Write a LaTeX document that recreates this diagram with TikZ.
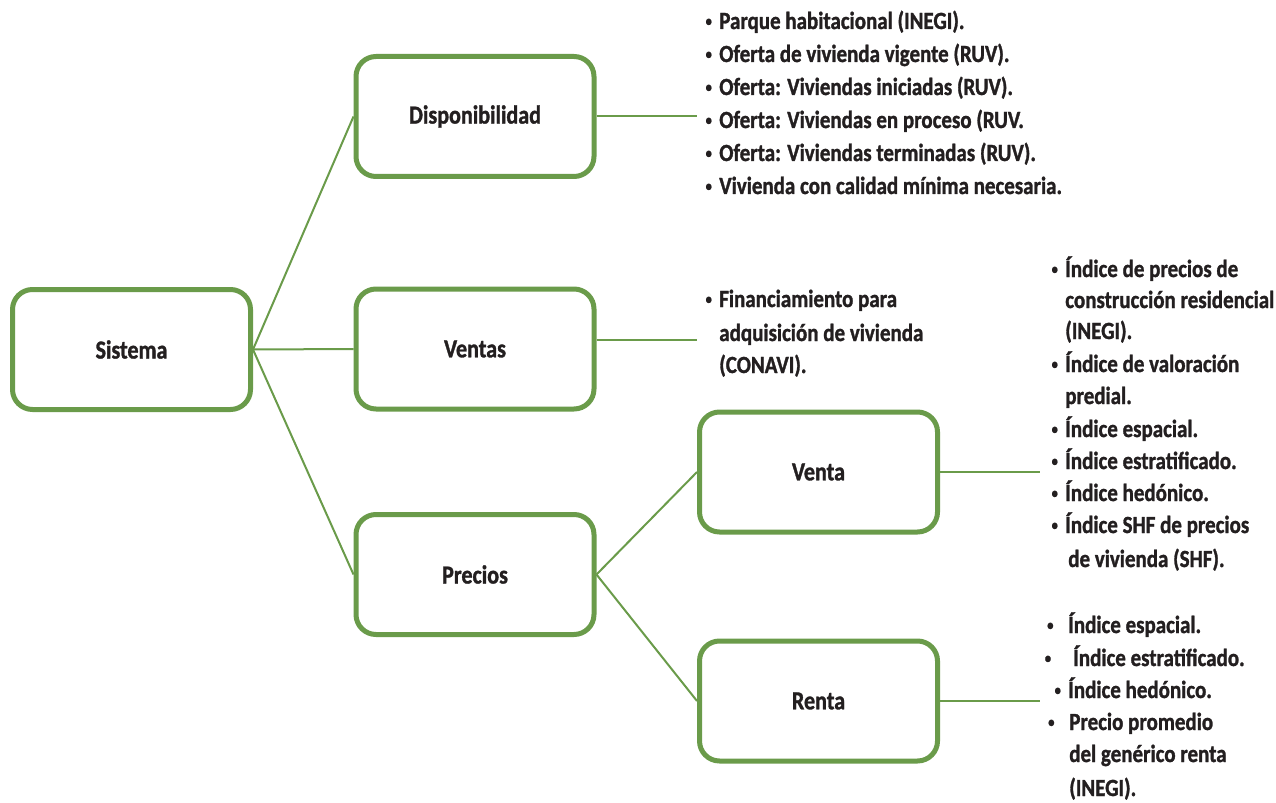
\documentclass[tikz,border=0pt]{standalone}
\usepackage{fontspec}
\usepackage{graphicx}
\setmainfont{Carlito}[FakeStretch=0.85, BoldFeatures={FakeBold=1.2}]
\definecolor{lgreen}{RGB}{106,155,74}
\definecolor{ink}{RGB}{35,31,32}
\newcommand\dotb{\raisebox{0.12em}{\scalebox{0.6}{\textbullet}}}
\newcommand\bl{\llap{\dotb\hspace{0.3em}}}
\newcommand\blw{\llap{\dotb\hspace{0.6em}}}
\begin{document}
\begin{tikzpicture}[x=0.75pt,y=-0.75pt,
  box/.style={draw=lgreen, line width=3.75pt, rounded corners=15pt, minimum width=178.5pt, minimum height=90pt, fill=white, text=ink, font=\fontsize{19.5}{22}\selectfont\bfseries},
  conn/.style={draw=lgreen, line width=1.5pt},
  item/.style={anchor=base west, inner sep=0pt, text=ink, font=\fontsize{18.5}{20}\selectfont\bfseries}]
\useasboundingbox (0,0) rectangle (1276,802);
% boxes
\node[box] (sis) at (131.5,349.5) {Sistema};
\node[box] (disp) at (475,116.5) {Disponibilidad};
\node[box] (ventas) at (475,349) {Ventas};
\node[box] (precios) at (475,574.5) {Precios};
\node[box] (venta) at (818.5,472) {Venta};
\node[box] (renta) at (818.5,701) {Renta};
% connectors
\draw[conn] (sis.east) -- (disp.west);
\draw[conn] (sis.east) -- (ventas.west);
\draw[conn] (sis.east) -- (precios.west);
\draw[conn] (precios.east) -- (venta.west);
\draw[conn] (precios.east) -- (renta.west);
\coordinate (dE) at (697,116.5);
\coordinate (vE) at (697,340);
\coordinate (veE) at (1040,472);
\coordinate (reE) at (1040,701);
\draw[conn] (disp.east) -- (dE);
\draw[conn] (vE -| ventas.east) -- (vE);
\draw[conn] (venta.east) -- (veE);
\draw[conn] (renta.east) -- (reE);
% Disponibilidad list
\node[item] (d1) at (719,29) {\bl Parque habitacional (INEGI).};
\node[item] (d2) at (719,62) {\bl Oferta de vivienda vigente (RUV).};
\node[item] (d3) at (719,95) {\bl Oferta: Viviendas iniciadas (RUV).};
\node[item] (d4) at (719,128) {\bl Oferta: Viviendas en proceso (RUV.};
\node[item] (d5) at (719,161) {\bl Oferta: Viviendas terminadas (RUV).};
\node[item] (d6) at (719,194) {\bl Vivienda con calidad mínima necesaria.};
% Ventas list
\node[item] (v1) at (719,307) {\bl Financiamiento para};
\node[item] (v2) at (719,341) {adquisición de vivienda};
\node[item] (v3) at (719,373) {(CONAVI).};
% Venta list
\node[item] (a1) at (1065,277) {\bl Índice de precios de};
\node[item] (a2) at (1065,308) {construcción residencial};
\node[item] (a3) at (1065,339) {(INEGI).};
\node[item] (a4) at (1065,372) {\bl Índice de valoración};
\node[item] (a5) at (1065,404) {predial.};
\node[item] (a6) at (1065,437) {\bl Índice espacial.};
\node[item] (a7) at (1065,469) {\bl Índice estratificado.};
\node[item] (a8) at (1065,501) {\bl Índice hedónico.};
\node[item] (a9) at (1065,533) {\bl Índice SHF de precios};
\node[item] (a10) at (1068,567) {de vivienda (SHF).};
% Renta list
\node[item] (r1) at (1068,633) {\blw Índice espacial.};
\node[item] (r2) at (1073,666) {\llap{\dotb\hspace{0.9em}}Índice estratificado.};
\node[item] (r3) at (1068,698) {\bl Índice hedónico.};
\node[item] (r4) at (1069,730) {\blw Precio promedio};
\node[item] (r5) at (1069,762) {del genérico renta};
\node[item] (r6) at (1069,796) {(INEGI).};
\end{tikzpicture}
\end{document}
